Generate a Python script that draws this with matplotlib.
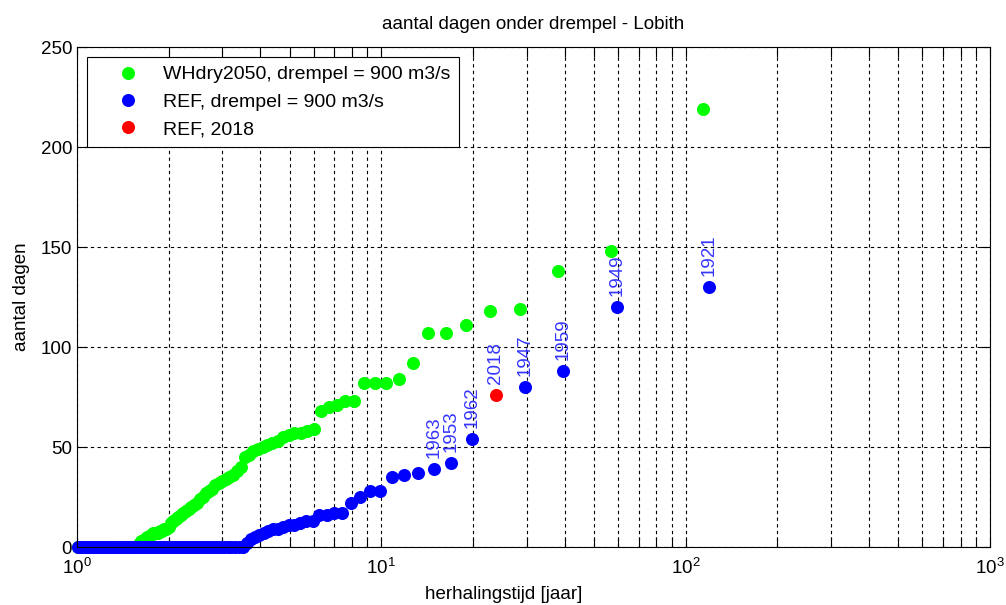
import numpy as np
import matplotlib
matplotlib.use("Agg")
import matplotlib.pyplot as plt
from matplotlib.ticker import LogLocator

plt.rcParams['font.family'] = ['Liberation Sans', 'DejaVu Sans']
plt.rcParams['mathtext.default'] = 'regular'

# ---- data ----
# WHdry2050: days below threshold, sorted descending (113 years)
wh_nonzero = [219, 148, 138, 119, 118, 111, 107, 107, 92, 84,
              82, 82, 82, 73, 73, 71, 70, 68, 59, 58,
              57, 57, 56, 55, 53, 52, 51, 50, 49, 48,
              46, 45, 40, 38, 36, 35, 34, 33, 32, 31,
              29, 28, 27, 25, 24, 22, 21, 20, 19, 18,
              17, 16, 15, 14, 13, 12, 10, 9, 9, 8,
              8, 7, 7, 7, 6, 5, 5, 4, 3, 3,
              2, 1]
wh_years_total = 113
# REF: days below threshold, sorted descending (118 years, incl. 2018)
ref_nonzero = [130, 120, 88, 80, 76, 54, 42, 39, 37, 36,
               35, 28, 28, 25, 22, 17, 17, 16, 16, 13,
               13, 12, 11, 11, 10, 9, 9, 8, 7, 6,
               5, 4, 2]
ref_years_total = 118
ref_label_years = ['1921', '1949', '1959', '1947', '2018', '1962', '1953', '1963']
highlight_year = '2018'

wh_days = np.array(wh_nonzero + [0] * (wh_years_total - len(wh_nonzero)), dtype=float)
ref_days = np.array(ref_nonzero + [0] * (ref_years_total - len(ref_nonzero)), dtype=float)

# return period (plotting position)
wh_T = (len(wh_days) + 1) / np.arange(1, len(wh_days) + 1)
ref_T = (len(ref_days) + 1) / np.arange(1, len(ref_days) + 1)

hl = ref_label_years.index(highlight_year)
mask = np.ones(len(ref_days), bool)
mask[hl] = False

fig = plt.figure(figsize=(10.06, 6.05), dpi=100)
ax = fig.add_axes([77/1006, 1-547/605, (990-77)/1006, (547-47)/605])

fs = 13.5
ms = 9.4
l1, = ax.plot(wh_T, wh_days, 'o', color='#00ff00', ms=ms, mec='none', clip_on=False,
              label='WHdry2050, drempel = 900 m3/s')
l2, = ax.plot(ref_T[mask], ref_days[mask], 'o', color='#0000ff', ms=ms, mec='none', clip_on=False,
              label='REF, drempel = 900 m3/s')
l3, = ax.plot(ref_T[hl], ref_days[hl], 'o', color='#ff0000', ms=ms, mec='none', clip_on=False,
              label='REF, 2018')

for i, yr in enumerate(ref_label_years):
    ax.annotate(yr, (ref_T[i], ref_days[i]), xytext=(0, 8), textcoords='offset points',
                rotation=90, ha='center', va='bottom', color='#3535ff', fontsize=fs)

ax.set_xscale('log')
ax.set_xlim(1, 1000)
ax.set_ylim(0, 250)
ax.set_yticks([0, 50, 100, 150, 200, 250])
ax.xaxis.set_major_locator(LogLocator(base=10, numticks=10))
ax.xaxis.set_minor_locator(LogLocator(base=10, subs=np.arange(2, 10), numticks=20))

ax.grid(True, which='major', axis='both', color='k', linestyle=(0, (3, 3)), linewidth=0.8)
ax.grid(True, which='minor', axis='x', color='k', linestyle=(0, (3, 3)), linewidth=0.8)
ax.set_axisbelow(True)

ax.tick_params(which='both', direction='in', top=True, right=True, labelsize=fs,
               length=7, width=0.8)
ax.tick_params(axis='x', pad=8)
for s in ax.spines.values():
    s.set_linewidth(0.8)

ax.set_title('aantal dagen onder drempel - Lobith', fontsize=fs, pad=13)
ax.set_xlabel('herhalingstijd [jaar]', fontsize=fs, labelpad=2)
ax.xaxis.set_label_coords((504 - 77) / 913, -0.078)
ax.set_ylabel('aantal dagen', fontsize=fs, labelpad=8)

leg = ax.legend(handles=[l1, l2, l3], loc='upper left', bbox_to_anchor=(10/913, 1-10/500),
                fontsize=14, frameon=True, fancybox=False, edgecolor='k',
                framealpha=1, handlelength=3.3, borderpad=0.45, labelspacing=0.5,
                handletextpad=0.15, borderaxespad=0)
leg.get_frame().set_linewidth(0.8)

fig.savefig('out.png', dpi=100)
